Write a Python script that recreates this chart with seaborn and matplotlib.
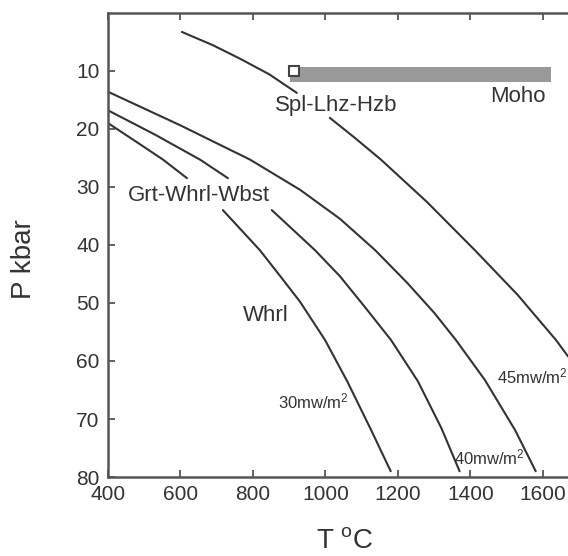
import numpy as np
import matplotlib.pyplot as plt
import pandas as pd
import seaborn as sns

# geotherms: T in deg C, P in kbar
# each curve is broken where a label sits on top of it
t45_a = [604, 690, 764, 845, 921]
p45_a = [3.3, 5.6, 7.9, 10.6, 13.8]
t45_b = [1012, 1080, 1153, 1280, 1412, 1530, 1636, 1669]
p45_b = [18.1, 21.5, 25.3, 32.6, 40.9, 48.6, 56.4, 59.2]

t40 = [400, 600, 792, 930, 1040, 1137, 1225, 1300, 1360, 1440, 1523, 1580]
p40 = [13.6, 19.4, 25.3, 30.5, 35.5, 40.9, 46.5, 51.7, 56.4, 63.3, 71.9, 79.0]

t35_a = [400, 530, 654, 731]
p35_a = [16.8, 21.0, 25.3, 28.5]
t35_b = [852, 971, 1040, 1110, 1181, 1255, 1320, 1370]
p35_b = [34.0, 40.9, 45.4, 50.8, 56.4, 63.5, 71.6, 79.0]

t30_a = [400, 480, 552, 618]
p30_a = [19.0, 22.3, 25.3, 28.5]
t30_b = [717, 819, 883, 930, 999, 1060, 1126, 1180]
p30_b = [34.0, 40.9, 46.0, 49.8, 56.4, 63.5, 71.9, 79.0]

# Moho band
moho_t = [902, 1622]
moho_top = [9.3, 9.3]
moho_bot = [11.9, 11.9]
moho_pt_t = [913]
moho_pt_p = [10.1]

segs = [(t45_a, p45_a), (t45_b, p45_b), (t40, p40), (t35_a, p35_a),
        (t35_b, p35_b), (t30_a, p30_a), (t30_b, p30_b)]
rows = []
for i, (tt, pp) in enumerate(segs):
    for t, p in zip(tt, pp):
        rows.append({'T': t, 'P': p, 'seg': i})
df = pd.DataFrame(rows)

sns.set_style('ticks')
plt.rcParams['font.family'] = ['Liberation Sans', 'DejaVu Sans']
plt.rcParams['mathtext.fontset'] = 'custom'
plt.rcParams['mathtext.rm'] = 'Liberation Sans'
plt.rcParams['mathtext.it'] = 'Liberation Sans'

ink = '#333333'
fig = plt.figure(figsize=(5.68, 5.56), dpi=100)
ax = fig.add_axes([0.190, 0.142, 0.81, 0.835])

ax.fill_between(moho_t, moho_top, moho_bot, color='#999999', lw=0)
ax.plot(moho_pt_t, moho_pt_p, 's', ms=7, mfc='white', mec='#444444', mew=1.5)

sns.lineplot(data=df, x='T', y='P', units='seg', estimator=None, sort=False,
             color=ink, lw=1.5, ax=ax)

ax.set_xlim(400, 1669)
ax.set_ylim(80, 0)
ax.set_xticks([400, 600, 800, 1000, 1200, 1400, 1600])
ax.set_yticks([10, 20, 30, 40, 50, 60, 70, 80])
ax.tick_params(direction='in', length=5, width=1.3, colors='#555555',
               labelcolor=ink, labelsize=15, top=True, right=False, pad=6)
for s in ['left', 'bottom', 'top']:
    ax.spines[s].set_color('#555555')
    ax.spines[s].set_linewidth(1.8)
ax.spines['right'].set_visible(False)

ax.set_xlabel('T $^\\mathrm{o}$C', fontsize=20, color=ink)
ax.set_ylabel('P kbar', fontsize=20, color=ink)
ax.xaxis.set_label_coords(0.515, -0.11)
ax.yaxis.set_label_coords(-0.154, 0.47)

big = dict(fontsize=16, color=ink, ha='center', va='center')
ax.text(1029, 15.9, 'Spl-Lhz-Hzb', **big)
ax.text(1531, 14.4, 'Moho', **big)
ax.text(651, 31.4, 'Grt-Whrl-Wbst', **big)
ax.text(836, 52.2, 'Whrl', **big)

small = dict(fontsize=12, color=ink, ha='center', va='center')
ax.text(966, 67.0, '30mw/m$^2$', **small)
ax.text(1451, 76.6, '40mw/m$^2$', **small)
ax.text(1570, 62.6, '45mw/m$^2$', **small)

fig.savefig('out.png', dpi=100)
